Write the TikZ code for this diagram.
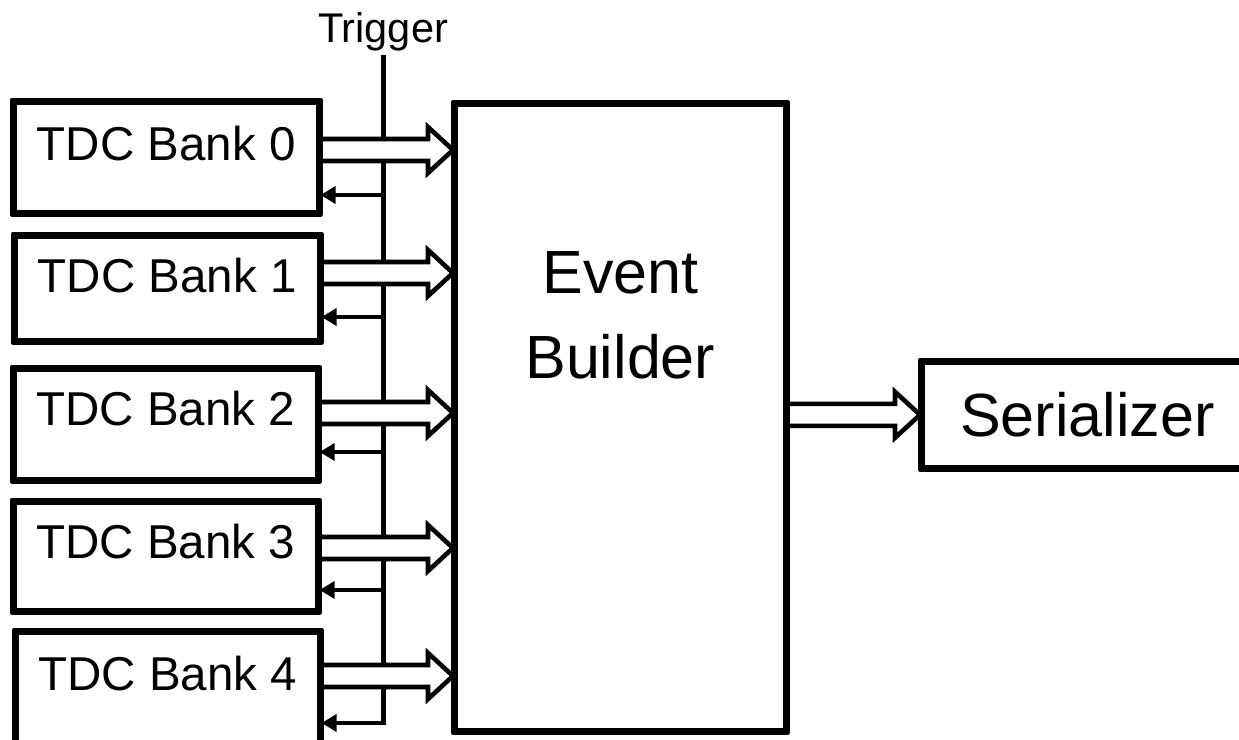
\documentclass[tikz,border=0pt]{standalone}
\usepackage{fontspec}
\setmainfont{Liberation Sans}
\usetikzlibrary{arrows.meta,calc}

\tikzset{
  block/.style={draw, line width=4.6pt, line join=round, rectangle,
    inner sep=0pt, anchor=north west},
  banktext/.style={anchor=base, inner sep=0pt, font=\fontsize{47.5}{57}\selectfont},
  bigtext/.style={anchor=base, inner sep=0pt, font=\fontsize{61}{73}\selectfont},
  trigtext/.style={anchor=base, inner sep=0pt, font=\fontsize{41.5}{50}\selectfont},
  wire/.style={line width=5pt},
  fatarrow/.style={draw, fill=white, line width=4.6pt, line join=miter},
  ret/.style={line width=4.6pt, -{Triangle[length=15pt,width=17pt]}},
}

% hollow bus arrow from #1 to #2 (same height)
\newcommand{\busarrow}[2]{%
  \path[fatarrow] ($(#1)+(0,-11)$) -- ($(#2)+(-25,-11)$) -- ($(#2)+(-25,-23)$)
    -- (#2) -- ($(#2)+(-25,23)$) -- ($(#2)+(-25,11)$) -- ($(#1)+(0,11)$);}

\begin{document}
\begin{tikzpicture}[x=1pt, y=-1pt]
\useasboundingbox (0,0) rectangle (1239,739);
\clip (0,0) rectangle (1239,739);

% blocks
\node[block, minimum width=304pt, minimum height=110pt] (b0) at (12,100) {};
\node[block, minimum width=304pt, minimum height=104pt] (b1) at (13,234) {};
\node[block, minimum width=303pt, minimum height=110pt] (b2) at (12,367) {};
\node[block, minimum width=303pt, minimum height=108pt] (b3) at (12,500) {};
\node[block, minimum width=303pt, minimum height=115pt] (b4) at (14,630) {};
\node[block, minimum width=330pt, minimum height=626pt] (eb) at (453,102) {};
\node[block, minimum width=330pt, minimum height=105pt,
      font=\fontsize{61}{73}\selectfont] (ser) at (920,360) {Serializer};

% trigger line
\coordinate (trigtop) at (383,55);
\coordinate (trigbot) at (383,725.3);
\draw[wire] (trigtop) -- (trigbot);
\path (trigtop) ++(0,-13) node[trigtext] {Trigger};

% data and return points on each bank
\path (b0.north east) ++(0,50) coordinate (s0) (b0.north east) ++(0,95) coordinate (r0);
\path (b1.north east) ++(0,39) coordinate (s1) (b1.north east) ++(0,83) coordinate (r1);
\path (b2.north east) ++(0,46) coordinate (s2) (b2.north east) ++(0,85) coordinate (r2);
\path (b3.north east) ++(0,48) coordinate (s3) (b3.north east) ++(0,90) coordinate (r3);
\path (b4.north east) ++(0,46) coordinate (s4) (b4.north east) ++(0,93) coordinate (r4);

% bus arrows into the event builder
\foreach \i in {0,...,4} {
  \coordinate (t\i) at (eb.west |- s\i);
  \busarrow{s\i}{t\i}
}
% bus arrow to the serializer
\coordinate (so) at (eb.east |- ser.west);
\busarrow{so}{ser.west}

% trigger fan-out back to the banks
\foreach \i in {0,...,4} {
  \draw[ret] (trigtop |- r\i) -- (r\i);
}

% redraw borders on top of the arrows
\foreach \n in {b0,b1,b2,b3,b4,eb,ser} {
  \draw[line width=4.6pt, line join=round] (\n.north west) rectangle (\n.south east);
}

% labels
\path (b0.north) ++(0,60) node[banktext] {TDC Bank 0};
\path (b1.north) ++(0,58) node[banktext] {TDC Bank 1};
\path (b2.north) ++(0,58) node[banktext] {TDC Bank 2};
\path (b3.north) ++(0,58) node[banktext] {TDC Bank 3};
\path (b4.north) ++(0,60) node[banktext] {TDC Bank 4};
\path (eb.north) ++(0,191) node[bigtext] {Event};
\path (eb.north) ++(0,276) node[bigtext] {Builder};
\end{tikzpicture}
\end{document}
